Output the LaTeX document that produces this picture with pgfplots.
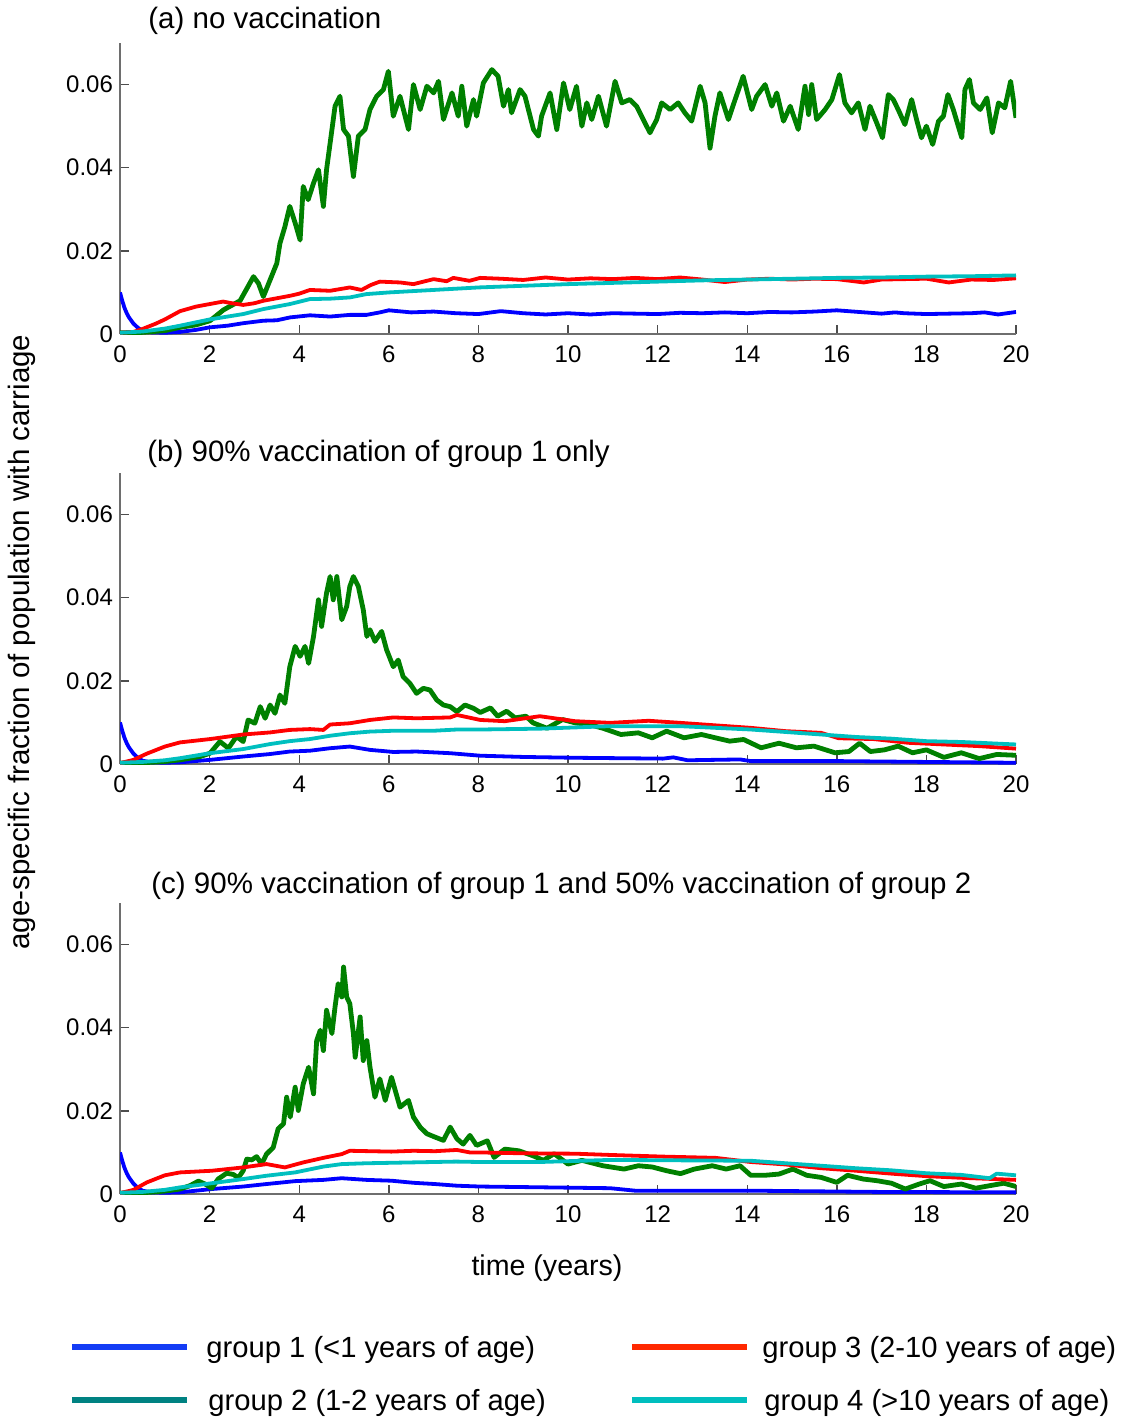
\documentclass[border=0pt]{standalone}
\usepackage{fontspec}
\setmainfont{Liberation Sans}
\usepackage{pgfplots}
\pgfplotsset{compat=1.18}
\definecolor{cblue}{RGB}{0,0,255}
\definecolor{cgreen}{RGB}{0,128,0}
\definecolor{cred}{RGB}{255,0,0}
\definecolor{ccyan}{RGB}{0,191,191}
\definecolor{lblue}{RGB}{20,60,245}
\definecolor{lteal}{RGB}{0,130,130}
\definecolor{lred}{RGB}{255,40,0}
\definecolor{lcyan}{RGB}{0,190,190}
\definecolor{axgray}{RGB}{110,110,110}
\pgfplotsset{
  panel/.style={
    scale only axis, width=448pt, height=145.5pt,
    xmin=0, xmax=20, ymin=0, ymax=0.07,
    axis x line*=bottom, axis y line*=left,
    xtick={0,2,...,20}, ytick={0,0.02,0.04,0.06},
    yticklabels={0,0.02,0.04,0.06},
    scaled y ticks=false,
    tick align=inside, major tick length=4.5pt,
    axis line style={draw=axgray, line width=0.7pt},
    tick style={draw=axgray!70!black, line width=0.7pt},
    tick label style={font=\fontsize{12}{14}\selectfont},
    xticklabel style={yshift=-2.5pt},
    /pgf/number format/assume math mode=true,
    every axis plot/.append style={line join=round, mark=none},
  },
  gb/.style={cblue, line width=1.9pt},
  gg/.style={cgreen, line width=2.4pt},
  gr/.style={cred, line width=1.9pt},
  gc/.style={ccyan, line width=1.9pt},
}
\begin{document}
\begin{tikzpicture}
\path[use as bounding box] (0pt,0pt) rectangle (560.5pt,-710pt);

% ---------------- panel (a)
\begin{axis}[panel, at={(60pt,-167pt)}, anchor=south west]
\addplot[gb] coordinates {(0,0.0100) (0.05,0.0080) (0.1,0.0063) (0.15,0.0050) (0.2,0.0040) (0.3,0.0025) (0.4,0.0015) (0.5,0.0008) (0.7,0.0004) (1.0,0.0003) (1.34,0.0005) (1.7,0.0010) (2.0,0.0016) (2.4,0.0020) (2.75,0.0026) (3.2,0.0032) (3.5,0.0033) (3.8,0.0040) (4.24,0.0045) (4.69,0.0042) (5.13,0.0046) (5.5,0.0046) (5.8,0.0052) (6.0,0.0057) (6.5,0.0052) (7.0,0.0054) (7.5,0.0050) (8.0,0.0048) (8.5,0.0055) (9.0,0.0050) (9.5,0.0047) (10.0,0.0050) (10.5,0.0047) (11.0,0.0050) (11.5,0.0049) (12.0,0.0048) (12.5,0.0051) (13.0,0.0050) (13.5,0.0052) (14.0,0.0050) (14.5,0.0053) (15.0,0.0052) (15.5,0.0054) (16.0,0.0057) (16.5,0.0053) (17.0,0.0049) (17.3,0.0052) (17.5,0.0050) (18.0,0.0048) (18.5,0.0049) (19.0,0.0050) (19.3,0.0052) (19.6,0.0047) (20.0,0.0053)};
\addplot[gg] coordinates {(0,0.0003) (0.5,0.0004) (1.0,0.0008) (1.34,0.0016) (1.7,0.0022) (2.01,0.0032) (2.31,0.0058) (2.68,0.0080) (2.98,0.0138) (3.09,0.0122) (3.20,0.0090) (3.35,0.0130) (3.50,0.0170) (3.57,0.0218) (3.68,0.0258) (3.79,0.0307) (3.91,0.0267) (4.02,0.0226) (4.09,0.0355) (4.20,0.0323) (4.32,0.0363) (4.43,0.0395) (4.54,0.0307) (4.61,0.0395) (4.72,0.0483) (4.80,0.0548) (4.91,0.0572) (4.99,0.0492) (5.10,0.0476) (5.21,0.0379) (5.32,0.0476) (5.47,0.0492) (5.58,0.0540) (5.73,0.0572) (5.88,0.0588) (5.99,0.0632) (6.10,0.0524) (6.25,0.0572) (6.44,0.0492) (6.55,0.0600) (6.70,0.0540) (6.85,0.0596) (7.00,0.0580) (7.11,0.0608) (7.22,0.0516) (7.41,0.0580) (7.55,0.0524) (7.63,0.0596) (7.74,0.0500) (7.89,0.0564) (7.96,0.0524) (8.11,0.0604) (8.30,0.0636) (8.44,0.0620) (8.56,0.0548) (8.67,0.0588) (8.74,0.0532) (8.93,0.0588) (9.04,0.0572) (9.23,0.0492) (9.34,0.0476) (9.41,0.0524) (9.60,0.0580) (9.75,0.0492) (9.90,0.0604) (10.04,0.0540) (10.19,0.0596) (10.31,0.0500) (10.42,0.0556) (10.53,0.0516) (10.68,0.0572) (10.86,0.0500) (11.05,0.0608) (11.20,0.0556) (11.38,0.0564) (11.53,0.0548) (11.68,0.0516) (11.83,0.0484) (11.98,0.0516) (12.09,0.0556) (12.28,0.0540) (12.46,0.0556) (12.61,0.0532) (12.76,0.0512) (12.95,0.0596) (13.06,0.0556) (13.17,0.0447) (13.28,0.0524) (13.39,0.0580) (13.58,0.0516) (13.73,0.0564) (13.91,0.0620) (14.10,0.0540) (14.21,0.0572) (14.40,0.0600) (14.55,0.0548) (14.66,0.0580) (14.81,0.0512) (14.96,0.0548) (15.14,0.0492) (15.29,0.0596) (15.37,0.0528) (15.44,0.0600) (15.55,0.0516) (15.74,0.0540) (15.89,0.0564) (16.06,0.0624) (16.18,0.0556) (16.33,0.0532) (16.48,0.0556) (16.63,0.0492) (16.74,0.0548) (16.89,0.0508) (17.02,0.0472) (17.15,0.0576) (17.26,0.0564) (17.37,0.0540) (17.52,0.0504) (17.67,0.0564) (17.78,0.0516) (17.89,0.0472) (18.00,0.0500) (18.14,0.0456) (18.27,0.0512) (18.38,0.0524) (18.48,0.0576) (18.60,0.0540) (18.79,0.0472) (18.86,0.0588) (18.96,0.0612) (19.05,0.0556) (19.20,0.0540) (19.35,0.0568) (19.47,0.0484) (19.61,0.0556) (19.75,0.0544) (19.88,0.0608) (20.0,0.0520)};
\addplot[gr] coordinates {(0,0.0003) (0.3,0.0005) (0.5,0.0012) (0.8,0.0025) (1.0,0.0035) (1.34,0.0055) (1.7,0.0066) (2.0,0.0072) (2.3,0.0078) (2.5,0.0074) (2.75,0.0070) (3.0,0.0074) (3.2,0.0080) (3.5,0.0086) (3.8,0.0092) (4.0,0.0097) (4.24,0.0106) (4.69,0.0104) (5.13,0.0112) (5.39,0.0106) (5.6,0.0118) (5.8,0.0126) (6.25,0.0124) (6.55,0.0120) (7.0,0.0132) (7.29,0.0127) (7.44,0.0135) (7.8,0.0128) (8.04,0.0135) (8.5,0.0133) (9.0,0.0130) (9.5,0.0136) (10.0,0.0131) (10.5,0.0134) (11.0,0.0132) (11.5,0.0135) (12.0,0.0132) (12.5,0.0136) (13.0,0.0131) (13.5,0.0125) (14.0,0.0131) (14.5,0.0133) (15.0,0.0131) (15.5,0.0133) (16.0,0.0132) (16.6,0.0124) (17.0,0.0131) (17.5,0.0132) (18.0,0.0133) (18.5,0.0124) (19.0,0.0131) (19.5,0.0130) (20.0,0.0134)};
\addplot[gc] coordinates {(0,0.0003) (0.5,0.0006) (1.0,0.0013) (1.34,0.0020) (2.0,0.0035) (2.75,0.0048) (3.2,0.0060) (3.79,0.0072) (4.24,0.0084) (4.69,0.0085) (5.13,0.0088) (5.5,0.0096) (6.0,0.0100) (7.0,0.0106) (8.0,0.0112) (9.0,0.0116) (10.0,0.0120) (11.0,0.0123) (12.0,0.0126) (13.0,0.0129) (14.0,0.0131) (15.0,0.0133) (16.0,0.0135) (17.0,0.0136) (18.0,0.0138) (19.0,0.0139) (20.0,0.0141)};
\end{axis}

% ---------------- panel (b)
\begin{axis}[panel, at={(60pt,-382pt)}, anchor=south west]
\addplot[gb] coordinates {(0,0.0100) (0.05,0.0080) (0.1,0.0063) (0.15,0.0050) (0.2,0.0040) (0.3,0.0025) (0.4,0.0015) (0.5,0.0008) (0.7,0.0004) (1.0,0.0003) (1.34,0.0004) (2.01,0.0010) (2.75,0.0018) (3.35,0.0024) (3.79,0.0030) (4.24,0.0032) (4.69,0.0038) (5.13,0.0042) (5.58,0.0034) (6.10,0.0029) (6.62,0.0030) (7.37,0.0026) (8.04,0.0020) (9.0,0.0017) (10.16,0.0015) (12.12,0.0013) (12.35,0.0016) (12.67,0.0009) (13.84,0.0011) (14.08,0.0007) (16.04,0.0007) (18.0,0.0005) (20.0,0.0003)};
\addplot[gg] coordinates {(0,0.0002) (0.5,0.0003) (1.0,0.0006) (1.34,0.0010) (1.79,0.0018) (2.01,0.0026) (2.23,0.0054) (2.42,0.0038) (2.60,0.0066) (2.75,0.0054) (2.86,0.0106) (3.01,0.0098) (3.13,0.0138) (3.24,0.0110) (3.35,0.0142) (3.46,0.0122) (3.57,0.0166) (3.68,0.0146) (3.79,0.0234) (3.91,0.0283) (4.02,0.0259) (4.13,0.0283) (4.21,0.0242) (4.32,0.0307) (4.43,0.0395) (4.50,0.0331) (4.61,0.0411) (4.69,0.0451) (4.76,0.0395) (4.84,0.0451) (4.95,0.0347) (5.06,0.0379) (5.13,0.0427) (5.21,0.0451) (5.32,0.0427) (5.43,0.0371) (5.51,0.0307) (5.58,0.0323) (5.69,0.0295) (5.84,0.0319) (5.95,0.0275) (6.10,0.0234) (6.21,0.0250) (6.32,0.0210) (6.47,0.0194) (6.62,0.0170) (6.77,0.0182) (6.92,0.0178) (7.07,0.0154) (7.22,0.0142) (7.37,0.0138) (7.52,0.0126) (7.70,0.0142) (7.89,0.0134) (8.04,0.0124) (8.27,0.0135) (8.43,0.0115) (8.63,0.0127) (8.82,0.0111) (9.06,0.0115) (9.22,0.0099) (9.53,0.0086) (9.88,0.0107) (10.16,0.0099) (10.47,0.0095) (10.78,0.0086) (11.18,0.0071) (11.57,0.0075) (11.88,0.0063) (12.20,0.0079) (12.59,0.0063) (12.98,0.0071) (13.29,0.0063) (13.61,0.0055) (13.92,0.0059) (14.31,0.0039) (14.71,0.0050) (15.10,0.0039) (15.49,0.0043) (15.96,0.0027) (16.27,0.0030) (16.51,0.0050) (16.75,0.0030) (17.06,0.0034) (17.37,0.0043) (17.69,0.0027) (18.0,0.0034) (18.39,0.0016) (18.78,0.0027) (19.18,0.0013) (19.57,0.0023) (20.0,0.0021)};
\addplot[gr] coordinates {(0,0.0002) (0.3,0.0010) (0.6,0.0025) (1.0,0.0042) (1.34,0.0052) (2.01,0.0060) (2.75,0.0071) (3.35,0.0076) (3.79,0.0082) (4.24,0.0084) (4.54,0.0082) (4.69,0.0095) (5.13,0.0098) (5.58,0.0106) (6.10,0.0112) (6.62,0.0110) (7.37,0.0112) (7.52,0.0118) (8.04,0.0106) (8.59,0.0103) (9.37,0.0115) (10.16,0.0103) (10.94,0.0099) (11.8,0.0104) (12.51,0.0099) (13.29,0.0093) (14.08,0.0087) (14.86,0.0079) (15.65,0.0075) (16.04,0.0062) (16.82,0.0060) (17.6,0.0051) (18.39,0.0047) (19.18,0.0043) (20.0,0.0037)};
\addplot[gc] coordinates {(0,0.0003) (0.5,0.0005) (1.0,0.0009) (1.34,0.0014) (2.01,0.0026) (2.75,0.0036) (3.35,0.0048) (3.79,0.0055) (4.24,0.0060) (4.69,0.0068) (5.13,0.0074) (5.58,0.0078) (6.10,0.0080) (7.0,0.0080) (7.52,0.0083) (8.04,0.0083) (9.37,0.0085) (10.94,0.0091) (12.51,0.0091) (14.08,0.0083) (14.86,0.0077) (15.65,0.0071) (16.43,0.0065) (17.22,0.0061) (18.0,0.0055) (18.78,0.0053) (20.0,0.0047)};
\end{axis}

% ---------------- panel (c)
\begin{axis}[panel, at={(60pt,-597pt)}, anchor=south west]
\addplot[gb] coordinates {(0,0.0100) (0.05,0.0080) (0.1,0.0063) (0.15,0.0050) (0.2,0.0040) (0.3,0.0025) (0.4,0.0015) (0.5,0.0008) (0.7,0.0004) (1.0,0.0003) (1.34,0.0004) (2.05,0.0012) (2.75,0.0018) (3.27,0.0024) (3.91,0.0031) (4.54,0.0034) (4.95,0.0038) (5.5,0.0034) (6.06,0.0032) (6.55,0.0027) (7.03,0.0024) (7.52,0.0020) (8.04,0.0018) (9.5,0.0016) (10.94,0.0014) (11.5,0.0008) (14.08,0.0008) (17.0,0.0005) (20.0,0.0004)};
\addplot[gg] coordinates {(0,0.0002) (0.5,0.0003) (1.0,0.0007) (1.34,0.0012) (1.56,0.0020) (1.75,0.0031) (1.90,0.0024) (2.05,0.0014) (2.19,0.0036) (2.38,0.0050) (2.53,0.0047) (2.64,0.0039) (2.75,0.0056) (2.83,0.0084) (2.94,0.0082) (3.05,0.0090) (3.16,0.0072) (3.27,0.0096) (3.42,0.0112) (3.53,0.0157) (3.65,0.0169) (3.72,0.0233) (3.80,0.0185) (3.91,0.0257) (3.98,0.0201) (4.09,0.0265) (4.21,0.0305) (4.32,0.0241) (4.39,0.0369) (4.47,0.0394) (4.54,0.0345) (4.61,0.0442) (4.73,0.0386) (4.80,0.0450) (4.87,0.0506) (4.95,0.0474) (4.99,0.0546) (5.06,0.0474) (5.13,0.0458) (5.21,0.0386) (5.25,0.0329) (5.36,0.0426) (5.43,0.0321) (5.51,0.0369) (5.58,0.0305) (5.69,0.0233) (5.80,0.0277) (5.92,0.0225) (6.06,0.0281) (6.25,0.0209) (6.44,0.0225) (6.55,0.0185) (6.70,0.0161) (6.85,0.0145) (7.03,0.0137) (7.22,0.0129) (7.37,0.0161) (7.52,0.0133) (7.66,0.0120) (7.81,0.0141) (7.96,0.0117) (8.2,0.0128) (8.35,0.0088) (8.59,0.0108) (8.9,0.0104) (9.22,0.0092) (9.45,0.0081) (9.69,0.0097) (10.0,0.0072) (10.31,0.0081) (10.78,0.0068) (11.25,0.0060) (11.57,0.0068) (11.88,0.0065) (12.2,0.0056) (12.51,0.0049) (12.82,0.0060) (13.22,0.0068) (13.53,0.0060) (13.84,0.0068) (14.08,0.0045) (14.39,0.0045) (14.71,0.0048) (15.02,0.0060) (15.33,0.0045) (15.65,0.0040) (16.0,0.0028) (16.24,0.0045) (16.59,0.0036) (16.9,0.0032) (17.22,0.0026) (17.53,0.0012) (17.84,0.0024) (18.08,0.0032) (18.39,0.0018) (18.78,0.0024) (19.1,0.0014) (19.41,0.0020) (19.73,0.0026) (20.0,0.0018)};
\addplot[gr] coordinates {(0,0.0002) (0.3,0.0010) (0.6,0.0028) (1.0,0.0045) (1.34,0.0052) (2.05,0.0056) (2.75,0.0064) (3.27,0.0072) (3.68,0.0064) (4.09,0.0076) (4.54,0.0087) (4.95,0.0096) (5.13,0.0104) (5.58,0.0103) (6.06,0.0102) (6.55,0.0104) (7.03,0.0103) (7.52,0.0106) (7.81,0.0100) (8.04,0.0100) (8.98,0.0098) (10.16,0.0097) (10.94,0.0094) (12.12,0.0090) (13.29,0.0087) (14.08,0.0077) (14.86,0.0071) (15.65,0.0062) (16.43,0.0056) (17.22,0.0049) (18.0,0.0043) (18.78,0.0039) (20.0,0.0034)};
\addplot[gc] coordinates {(0,0.0003) (0.5,0.0005) (1.0,0.0010) (1.34,0.0016) (2.05,0.0026) (2.75,0.0036) (3.27,0.0044) (3.91,0.0052) (4.54,0.0066) (4.95,0.0072) (5.5,0.0074) (6.5,0.0076) (7.5,0.0078) (8.04,0.0077) (9.37,0.0077) (10.94,0.0082) (12.51,0.0081) (14.08,0.0080) (14.86,0.0074) (15.65,0.0068) (16.43,0.0062) (17.22,0.0057) (18.0,0.0050) (18.78,0.0046) (19.41,0.0038) (19.57,0.0049) (20.0,0.0045)};
\end{axis}

% titles and labels
\begin{scope}[every node/.style={font=\fontsize{14.75}{16}\selectfont, inner sep=0pt}]
\node[anchor=base west] at (74pt,-14pt) {(a) no vaccination};
\node[anchor=base west] at (73.5pt,-230.5pt) {(b) 90\% vaccination of group 1 only};
\node[anchor=base west] at (75.5pt,-446.5pt) {(c) 90\% vaccination of group 1 and 50\% vaccination of group 2};
\node[rotate=90] at (11pt,-321pt) {age-specific fraction of population with carriage};
\end{scope}
\node[font=\fontsize{14.3}{16}\selectfont, inner sep=0pt] at (273.5pt,-634pt) {time (years)};

% legend
\begin{scope}[every node/.style={font=\fontsize{14.6}{16}\selectfont, inner sep=0pt, anchor=base west}]
\draw[lblue, line width=2.8pt] (36pt,-673.5pt) -- (93.5pt,-673.5pt);
\node at (103pt,-678.5pt) {group 1 (<1 years of age)};
\draw[lteal, line width=2.8pt] (36pt,-700pt) -- (93.5pt,-700pt);
\node at (104pt,-705pt) {group 2 (1-2 years of age)};
\draw[lred, line width=2.8pt] (316pt,-673.5pt) -- (373.5pt,-673.5pt);
\node at (381pt,-678.5pt) {group 3 (2-10 years of age)};
\draw[lcyan, line width=2.8pt] (316pt,-700pt) -- (373.5pt,-700pt);
\node at (382pt,-705pt) {group 4 (>10 years of age)};
\end{scope}
\end{tikzpicture}
\end{document}
